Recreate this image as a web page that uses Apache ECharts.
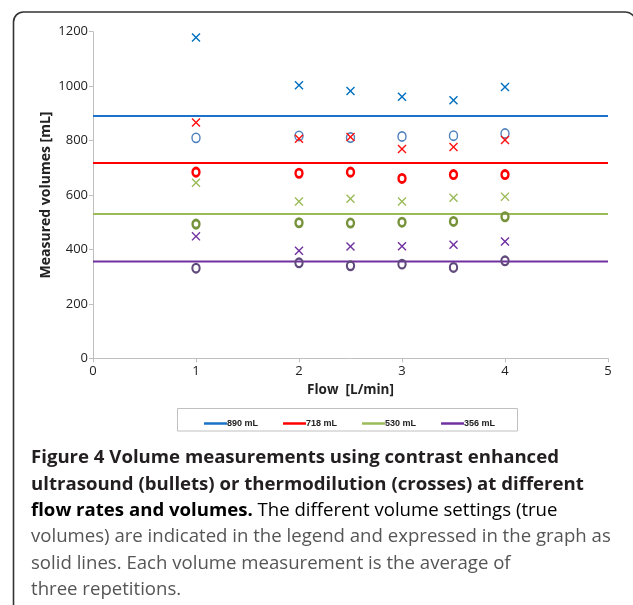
<!DOCTYPE html>
<html>
<head>
<meta charset="utf-8">
<script src="https://cdn.jsdelivr.net/npm/echarts@6/dist/echarts.min.js"></script>
<style>
html,body{margin:0;padding:0;background:#fff;}
#c{width:633px;height:605px;}
</style>
</head>
<body>
<div id="c"></div>
<script>
const flows = [1, 2, 2.5, 3, 3.5, 4];
const trueVolumes = [890, 718, 530, 356];
const legendLabels = ['890 mL', '718 mL', '530 mL', '356 mL'];
const ceus890 = [810, 817, 811, 815, 818, 826];
const thermo890 = [1179, 1003, 982, 961, 948, 997];
const ceus718 = [684, 680, 684, 661, 675, 675];
const thermo718 = [866, 807, 813, 769, 776, 802];
const ceus530 = [493, 498, 497, 500, 503, 520];
const thermo530 = [645, 576, 586, 576, 590, 594];
const ceus356 = [331, 351, 340, 346, 334, 358];
const thermo356 = [448, 395, 411, 412, 417, 429];
const xTicks = [0, 1, 2, 3, 4, 5];
const yTicks = [0, 200, 400, 600, 800, 1000, 1200];

const lineColors = ['#1a73c9', '#ff0000', '#9bbb59', '#7030a0'];
const crossColors = ['#0070c0', '#ff1010', '#9bbb59', '#7030a0'];
const circleColors = ['#4f81bd', '#ff0000', '#77933c', '#604a7b'];
const circleWidths = [1.5, 2.6, 2.6, 2.2];
const ceusSets = [ceus890, ceus718, ceus530, ceus356];
const thermoSets = [thermo890, thermo718, thermo530, thermo356];

const k = 11;
const crossPath = 'path://M0,' + k + 'L' + k + ',0L50,' + (50 - k) + 'L' + (100 - k) + ',0L100,' + k +
  'L' + (50 + k) + ',50L100,' + (100 - k) + 'L' + (100 - k) + ',100L50,' + (50 + k) + 'L' + k + ',100L0,' + (100 - k) +
  'L' + (50 - k) + ',50Z';

const pair = (xs, ys) => xs.map((x, i) => [x, ys[i]]);

const series = [];
trueVolumes.forEach((v, i) => {
  series.push({
    name: legendLabels[i], type: 'line', data: [[xTicks[0], v], [xTicks[xTicks.length - 1], v]],
    symbol: 'none', lineStyle: { color: lineColors[i], width: 2 }, itemStyle: { color: lineColors[i] },
    silent: true, animation: false, z: 1
  });
});
ceusSets.forEach((d, i) => {
  const w = circleWidths[i];
  series.push({
    name: 'ceus' + i, type: 'scatter', data: pair(flows, d), symbol: 'circle',
    symbolSize: [9.5 - w, 10.8 - w],
    itemStyle: { color: 'rgba(0,0,0,0)', borderColor: circleColors[i], borderWidth: w, opacity: 1 },
    animation: false, z: 2
  });
});
thermoSets.forEach((d, i) => {
  series.push({
    name: 'thermo' + i, type: 'scatter', data: pair(flows, d), symbol: crossPath,
    symbolSize: [9, 9], itemStyle: { color: crossColors[i], opacity: 1 },
    animation: false, z: 3
  });
});

const chart = echarts.init(document.getElementById('c'), null, { renderer: 'canvas' });
const axisLine = { show: true, lineStyle: { color: '#bfbfbf', width: 1 } };
const capX = 31, capY0 = 458, capDy = 26.4;
const capFont = '"Open Sans", sans-serif';
const capSize = 18.6;
const boldLines = [
  'Figure 4 Volume measurements using contrast enhanced',
  'ultrasound (bullets) or thermodilution (crosses) at different'
];
const regLines = [
  'volumes) are indicated in the legend and expressed in the graph as',
  'solid lines. Each volume measurement is the average of',
  'three repetitions.'
];
const graphics = [
  { type: 'rect', shape: { x: 13.5, y: 12, width: 622, height: 640, r: [10, 10, 0, 0] },
    style: { fill: 'none', stroke: '#333', lineWidth: 1.6 }, silent: true },
  { type: 'rect', shape: { x: 177.5, y: 408.5, width: 340, height: 22.5 },
    style: { fill: 'none', stroke: '#c0c0c0', lineWidth: 1 }, silent: true }
];
boldLines.forEach((t, i) => graphics.push({
  type: 'text', x: capX, y: capY0 + i * capDy,
  style: { text: t, font: 'bold ' + capSize + 'px ' + capFont, fill: '#231f20', verticalAlign: 'middle' }
}));
graphics.push({
  type: 'text', x: capX, y: capY0 + 2 * capDy,
  style: {
    text: '{b|flow rates and volumes.}{r| The different volume settings (true}',
    verticalAlign: 'middle',
    rich: {
      b: { fontFamily: capFont, fontWeight: 'bold', fontSize: capSize, color: '#231f20' },
      r: { fontFamily: capFont, fontWeight: 'normal', fontSize: capSize, color: '#555' }
    }
  }
});
regLines.forEach((t, i) => graphics.push({
  type: 'text', x: capX, y: capY0 + (3 + i) * capDy,
  style: { text: t, font: capSize + 'px ' + capFont, fill: '#555', verticalAlign: 'middle' }
}));

chart.setOption({
  animation: false,
  backgroundColor: '#fff',
  grid: { left: 93, right: 25, top: 31.7, bottom: 246.7, containLabel: false },
  xAxis: {
    type: 'value', min: xTicks[0], max: xTicks[xTicks.length - 1], interval: 1,
    name: 'Flow  [L/min]', nameLocation: 'middle', nameGap: 25, nameMoveOverlap: false,
    nameTextStyle: { fontFamily: 'Open Sans', fontWeight: 'bold', fontSize: 13.5, color: '#222' },
    axisLine: axisLine, axisTick: { show: true, length: 4, lineStyle: { color: '#bfbfbf' } },
    axisLabel: { fontFamily: 'Open Sans', fontSize: 13, color: '#222', margin: 6, formatter: v => String(v) },
    splitLine: { show: false }
  },
  yAxis: {
    type: 'value', min: yTicks[0], max: yTicks[yTicks.length - 1], interval: 200,
    name: 'Measured volumes [mL]', nameLocation: 'middle', nameGap: 40, nameMoveOverlap: false,
    nameTextStyle: { fontFamily: 'Open Sans', fontWeight: 'bold', fontSize: 14, color: '#222' },
    axisLine: axisLine, axisTick: { show: true, length: 4, lineStyle: { color: '#bfbfbf' } },
    axisLabel: { fontFamily: 'Open Sans', fontSize: 13, color: '#222', margin: 5, formatter: v => String(v) },
    splitLine: { show: false }
  },
  legend: {
    data: legendLabels.map(n => ({ name: n, icon: 'rect' })),
    left: 199, top: 414, itemWidth: 23, itemHeight: 2.5, itemGap: 25,
    textStyle: { fontFamily: 'Liberation Sans', fontWeight: 'bold', fontSize: 9, color: '#222', padding: [0, 0, 0, -5] },
    selectedMode: false
  },
  graphic: graphics,
  series: series
});
</script>
</body>
</html>
